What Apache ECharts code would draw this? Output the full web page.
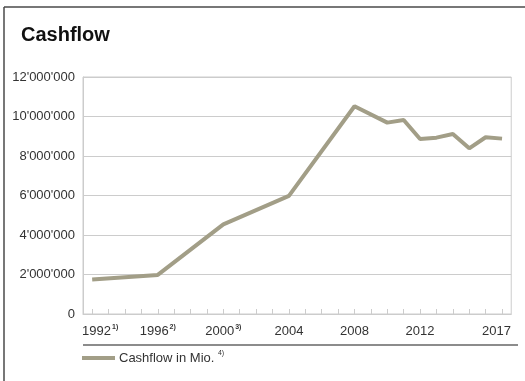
<!DOCTYPE html>
<html>
<head>
<meta charset="utf-8">
<script src="https://cdn.jsdelivr.net/npm/echarts@6/dist/echarts.min.js"></script>
<style>
html,body{margin:0;padding:0;background:#fff;}
#chart{width:525px;height:381px;}
</style>
</head>
<body>
<div id="chart"></div>
<script>
const titleText = 'Cashflow';
const seriesName = 'Cashflow in Mio.';
const seriesNote = '4)';
const years = [1992, 1996, 2000, 2004, 2008, 2010, 2011, 2012, 2013, 2014, 2015, 2016, 2017];
const cashflow = [1750000, 1980000, 4540000, 5980000, 10520000, 9690000, 9820000, 8860000, 8930000, 9110000, 8390000, 8950000, 8880000];
const tickYears = [1992,1993,1994,1995,1996,1997,1998,1999,2000,2001,2002,2003,2004,2005,2006,2007,2008,2009,2010,2011,2012,2013,2014,2015,2016,2017];
const labelYears = [1992, 1996, 2000, 2004, 2008, 2012, 2017];
const labelNotes = {1992: '1)', 1996: '2)', 2000: '3)'};

const chart = echarts.init(document.getElementById('chart'), null, {renderer: 'canvas'});

function fmtThousands(v) {
  return String(v).replace(/\B(?=(\d{3})+(?!\d))/g, "'");
}

const font = '"Liberation Sans", Arial, sans-serif';

chart.setOption({
  animation: false,
  title: {
    text: titleText,
    left: 16,
    top: 20,
    textStyle: {fontFamily: font, fontWeight: 'bold', fontSize: 20, color: '#111'}
  },
  grid: {
    left: 83, right: 7, top: 77, bottom: 67,
    show: true, borderColor: '#cccccc', borderWidth: 1
  },
  legend: {
    left: 82, top: 350, padding: 0,
    itemWidth: 33, itemHeight: 12, itemGap: 10,
    icon: 'path://M0,4 L33,4 L33,8 L0,8 Z',
    data: [seriesName],
    formatter: function (n) { return '{a|' + n + '} {s|' + seriesNote + '}'; },
    textStyle: {
      fontFamily: font, fontSize: 13, color: '#333',
      rich: {
        a: {fontFamily: font, fontSize: 13, color: '#333', lineHeight: 16, padding: [0,0,0,-1]},
        s: {fontFamily: font, fontSize: 7, color: '#333', verticalAlign: 'top', lineHeight: 16, padding: [0,0,4,0]}
      }
    }
  },
  xAxis: {
    type: 'value',
    min: 1991.44,
    max: 2017.56,
    splitLine: {show: false},
    axisLine: {show: true, lineStyle: {color: '#cccccc', width: 1}},
    axisTick: {show: true, inside: true, length: 5, customValues: tickYears, lineStyle: {color: '#cccccc'}},
    axisLabel: {
      customValues: labelYears,
      margin: 9,
      formatter: function (v) {
        const y = Math.round(v);
        if (y === 1992) return '{f|' + y + '}{s|' + labelNotes[y] + '}';
        if (labelNotes[y]) return '{a|' + y + '}{s|' + labelNotes[y] + '}';
        if (y === 2017) return '{l|' + y + '}';
        return '{a|' + y + '}';
      },
      rich: {
        a: {fontFamily: font, fontSize: 13, color: '#333', lineHeight: 16},
        f: {fontFamily: font, fontSize: 13, color: '#333', lineHeight: 16, padding: [0,0,0,16]},
        l: {fontFamily: font, fontSize: 13, color: '#333', lineHeight: 16, padding: [0,11,0,0]},
        s: {fontFamily: font, fontSize: 7, fontWeight: 'bold', color: '#333', verticalAlign: 'top', lineHeight: 16, padding: [1,0,0,1]}
      }
    }
  },
  yAxis: {
    type: 'value',
    min: 0,
    max: 12000000,
    interval: 2000000,
    axisLine: {show: true, lineStyle: {color: '#cccccc'}},
    axisTick: {show: false},
    splitLine: {show: true, lineStyle: {color: '#cccccc', width: 1}},
    axisLabel: {
      margin: 8,
      fontFamily: font, fontSize: 13, color: '#333',
      formatter: function (v) { return fmtThousands(v); }
    }
  },
  series: [{
    name: seriesName,
    type: 'line',
    data: years.map((y, i) => [y, cashflow[i]]),
    symbol: 'none',
    lineStyle: {color: '#a29e87', width: 4},
    itemStyle: {color: '#a29e87'}
  }],
  graphic: [
    {type: 'line', shape: {x1: 4, y1: 7, x2: 525, y2: 7}, style: {stroke: '#4a4a4a', lineWidth: 1.5}, silent: true},
    {type: 'line', shape: {x1: 4, y1: 7, x2: 4, y2: 381}, style: {stroke: '#4a4a4a', lineWidth: 1.5}, silent: true},
    {type: 'line', shape: {x1: 83, y1: 345, x2: 518, y2: 345}, style: {stroke: '#666666', lineWidth: 1.5}, silent: true}
  ]
});
</script>
</body>
</html>
